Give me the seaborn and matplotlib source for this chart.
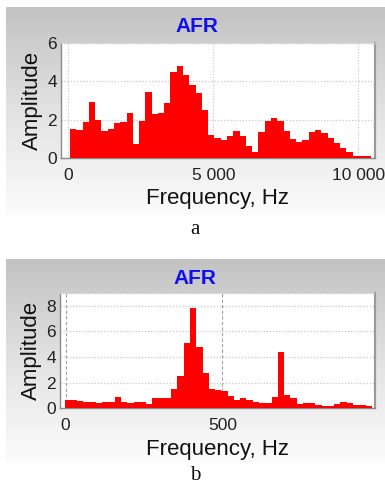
import numpy as np
import pandas as pd
import matplotlib
matplotlib.use("Agg")
import matplotlib.pyplot as plt
from matplotlib.colors import LinearSegmentedColormap
import seaborn as sns

# ---------------- data ----------------
# Panel a: amplitude spectrum, 48 bins
amp_a = [1.52, 1.47, 1.86, 2.91, 1.96, 1.39, 1.49, 1.80, 1.86, 2.35, 0.75, 1.91,
         3.45, 2.27, 2.35, 2.87, 4.48, 4.82, 4.35, 3.79, 3.39, 2.49, 1.22, 1.05,
         0.93, 1.13, 1.42, 1.17, 0.64, 0.30, 1.38, 1.95, 2.10, 1.94, 1.39, 1.00,
         0.86, 0.96, 1.37, 1.48, 1.32, 1.04, 0.78, 0.51, 0.30, 0.10, 0.12, 0.08]
bin_width_a = 216.6     # Hz
first_edge_a = 57.0     # Hz
xticks_a = [0, 5000, 10000]
xticklabels_a = ["0", "5 000", "10 000"]
yticks_a = [0, 2, 4, 6]

# Panel b: amplitude spectrum, 49 bins
amp_b = [0.67, 0.65, 0.60, 0.47, 0.47, 0.44, 0.49, 0.52, 0.85, 0.52, 0.41, 0.47,
         0.47, 0.36, 0.78, 0.80, 0.80, 1.50, 2.50, 5.05, 7.77, 4.74, 2.77, 1.50,
         1.42, 1.37, 0.93, 0.67, 0.80, 0.65, 0.49, 0.44, 0.41, 0.85, 4.35, 1.04,
         0.78, 0.34, 0.44, 0.39, 0.26, 0.21, 0.18, 0.36, 0.47, 0.44, 0.28, 0.23,
         0.16]
bin_width_b = 20.0      # Hz
first_edge_b = -3.2     # Hz
xticks_b = [0, 500]
xticklabels_b = ["0", "500"]
yticks_b = [0, 2, 4, 6, 8]

title_text = "AFR"
xlabel_text = "Frequency, Hz"
ylabel_text = "Amplitude"
captions = ["a", "b"]

# ---------------- figure ----------------
sns.set_theme(style="white")
plt.rcParams["font.family"] = ["Liberation Sans", "DejaVu Sans"]

W, H = 385, 486
fig = plt.figure(figsize=(W / 100, H / 100), dpi=100)
fig.patch.set_facecolor("white")


def px_rect(x0, y0, x1, y1):
    return [x0 / W, 1 - y1 / H, (x1 - x0) / W, (y1 - y0) / H]


def gradient_panel(x0, y0, x1, y1):
    bg = fig.add_axes(px_rect(x0, y0, x1, y1), zorder=-10)
    grad = np.linspace(0, 1, 256).reshape(-1, 1)
    cmap = LinearSegmentedColormap.from_list("g", ["#c2c2c2", "#e2e2e2", "#fcfcfc"])
    bg.imshow(grad, aspect="auto", cmap=cmap, extent=[0, 1, 0, 1])
    bg.set_axis_off()


def spectrum(ax, amp, first_edge, width, xlim, ylim, xticks, xticklabels, yticks, vgrid_style):
    n = len(amp)
    edges = first_edge + width * np.arange(n + 1)
    centers = (edges[:-1] + edges[1:]) / 2
    df = pd.DataFrame({"freq": centers, "amp": amp})
    sns.histplot(data=df, x="freq", weights="amp", bins=edges.tolist(), ax=ax,
                 color="#ff0000", alpha=1.0, edgecolor="none", linewidth=0,
                 element="bars", zorder=3)
    ax.set_facecolor("white")
    ax.set_xlim(*xlim)
    ax.set_ylim(*ylim)
    ax.set_xticks(xticks)
    ax.set_xticklabels(xticklabels)
    ax.set_yticks(yticks)
    ax.tick_params(axis="y", labelsize=12.5, colors="#222222", length=0, pad=3)
    ax.tick_params(axis="x", labelsize=12.5, colors="#222222", length=0, pad=7)
    ax.yaxis.grid(True, linestyle=(0, (1, 1.5)), color="#c8c8c8", linewidth=0.9, zorder=0)
    ax.xaxis.grid(True, linestyle=vgrid_style[0], color=vgrid_style[1], linewidth=0.8, zorder=0)
    ax.set_axisbelow(True)
    for side in ["left", "bottom"]:
        ax.spines[side].set_color("#8a8a8a")
        ax.spines[side].set_linewidth(1.0)
    ax.spines["right"].set_color("#9a9a9a")
    ax.spines["right"].set_linewidth(1.6)
    ax.spines["top"].set_color("#d0d0d0")
    ax.spines["top"].set_linestyle((0, (1, 1.5)))
    ax.spines["top"].set_linewidth(0.9)
    ax.set_xlabel(xlabel_text, fontsize=16, color="#111111", labelpad=4)
    ax.set_ylabel(ylabel_text, fontsize=16, color="#111111", labelpad=3)


# Panel a
gradient_panel(6, 7, 385, 215)
ax_a = fig.add_axes(px_rect(61, 43, 375, 158))
spectrum(ax_a, amp_a, first_edge_a, bin_width_a, (-253, 10575), (0, 6),
         xticks_a, xticklabels_a, yticks_a, ((0, (1, 1.5)), "#c8c8c8"))
fig.text(197 / W, 1 - 27 / H, title_text, ha="center", va="center",
         fontsize=15, fontweight="bold", color="#1010ee")
fig.text(195 / W, 1 - 229 / H, captions[0], ha="center", va="center",
         fontsize=15, family=["Liberation Serif", "DejaVu Serif"], color="#111111")

# Panel b
gradient_panel(6, 259, 385, 462)
ax_b = fig.add_axes(px_rect(60, 292.7, 375, 408.3))
spectrum(ax_b, amp_b, first_edge_b, bin_width_b, (-18, 987), (0, 9),
         xticks_b, xticklabels_b, yticks_b, ((0, (3, 2)), "#a0a0a0"))
fig.text(195 / W, 1 - 278 / H, title_text, ha="center", va="center",
         fontsize=15, fontweight="bold", color="#1010ee")
fig.text(195 / W, 1 - 475 / H, captions[1], ha="center", va="center",
         fontsize=15, family=["Liberation Serif", "DejaVu Serif"], color="#111111")

fig.savefig("out.png", dpi=100)
